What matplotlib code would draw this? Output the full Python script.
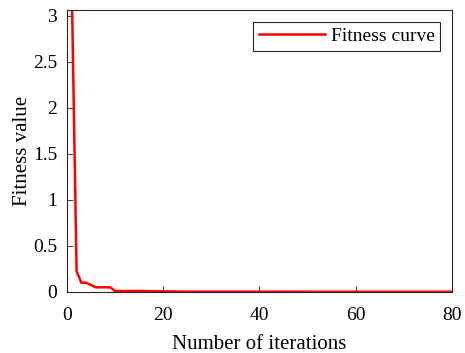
import numpy as np
import matplotlib
matplotlib.use("Agg")
import matplotlib.pyplot as plt

plt.rcParams['font.family'] = ['Liberation Serif', 'DejaVu Serif']

# fitness per iteration
iterations = list(range(1, 81))
fitness = [3.30, 0.225, 0.10, 0.10, 0.075, 0.05, 0.05, 0.05, 0.05, 0.01,
           0.01, 0.01, 0.01, 0.01, 0.01, 0.01, 0.009, 0.008, 0.007, 0.006,
           0.005, 0.005, 0.004, 0.004, 0.004, 0.003, 0.003, 0.003, 0.003, 0.003,
           0.003, 0.003, 0.003, 0.003, 0.003, 0.003, 0.003, 0.003, 0.003, 0.003,
           0.003, 0.003, 0.003, 0.003, 0.003, 0.003, 0.003, 0.003, 0.003, 0.003,
           0.002, 0.002, 0.002, 0.002, 0.002, 0.002, 0.002, 0.002, 0.002, 0.002,
           0.002, 0.002, 0.002, 0.002, 0.002, 0.002, 0.002, 0.002, 0.002, 0.002,
           0.002, 0.002, 0.002, 0.002, 0.002, 0.002, 0.002, 0.002, 0.002, 0.002]
xticks = [0, 20, 40, 60, 80]
yticks = [0, 0.5, 1, 1.5, 2, 2.5, 3]
ytick_labels = ['0', '0.5', '1', '1.5', '2', '2.5', '3']

fig = plt.figure(figsize=(4.65, 3.53), dpi=100)
ax = fig.add_axes([0.144, 0.173, 0.828, 0.799])
ax.plot(iterations, fitness, color='#ff0000', linewidth=1.8, label='Fitness curve')
ax.set_xlim(0, 80)
ax.set_ylim(0, 3.065)
ax.set_xticks(xticks)
ax.set_yticks(yticks)
ax.set_yticklabels(ytick_labels)
ax.tick_params(direction='in', length=4, width=0.6, labelsize=14, color='#262626')
ax.tick_params(axis='x', pad=11)
ax.tick_params(axis='y', pad=7)
for s in ax.spines.values():
    s.set_color('#262626')
    s.set_linewidth(0.8)
ax.set_xlabel('Number of iterations', fontsize=15, labelpad=8)
ax.set_ylabel('Fitness value', fontsize=15, labelpad=1)
leg = ax.legend(loc='upper right', fontsize=14, fancybox=False, framealpha=1,
                edgecolor='#262626', borderpad=0.3, handlelength=3.4,
                handletextpad=0.3, borderaxespad=0.6)
leg.get_frame().set_linewidth(0.8)

fig.savefig('out.png', dpi=100)
